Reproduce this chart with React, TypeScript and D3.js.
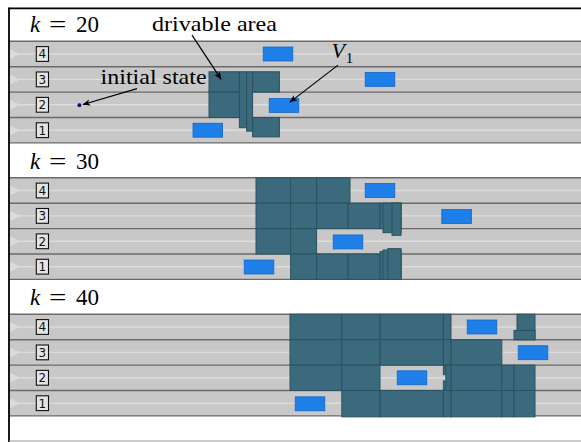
import React from "react";
import * as d3 from "d3";

// ---------- data ----------
const steps = [20, 30, 40];
const laneIds = [1, 2, 3, 4];
const LANE_W = 4; // lane width (m)
const ROAD_LEN = 143; // visible road length (m)

// other vehicles: [longitudinal centre s (m), lateral centre d (m)]
const carsK20 = [[67.25, 14], [92.75, 10], [68.75, 5.9], [49.7, 2]];
const carsK30 = [[92.75, 14], [111.9, 9.9], [84.75, 5.9], [62.5, 1.95]];
const carsK40 = [[118.25, 14], [131, 9.95], [100.75, 6], [75.25, 1.9]];
const CAR_L = 7.4;
const CAR_W = 2.2;

// drivable-area cells: [s0, s1, d0, d1]
const areaK20 = [
  [50, 57.6, 8, 11.2],
  [50, 57.6, 4, 8],
  [57.6, 59.4, 2.4, 11.2],
  [59.4, 60.9, 1.85, 11.2],
  [60.9, 67.6, 8, 11.2],
  [60.9, 67.6, 0.95, 4],
];
const areaK30 = [
  [61.75, 70.4, 12, 16], [70.4, 76.9, 12, 16], [76.9, 85.25, 12, 16],
  [61.75, 70.4, 8, 12], [70.4, 76.9, 8, 12], [76.9, 84.8, 8, 12], [84.8, 92.75, 8, 12],
  [92.75, 98, 8, 12], [93.5, 98, 7.36, 12], [95.75, 98, 6.94, 12],
  [61.75, 70.4, 4, 8], [70.4, 76.9, 4, 8],
  [70.4, 76.9, 0, 4], [76.9, 84.8, 0, 4], [84.8, 92.75, 0, 4],
  [92.75, 98, 0, 4.37], [93.5, 98, 0, 4.63], [94.7, 98, 0, 4.84],
];
const areaK40 = [
  [70.25, 83.2, 12, 16], [83.2, 92.75, 12, 16], [92.75, 108.6, 12, 16], [108.6, 110.5, 12, 16],
  [127, 131.5, 12, 16], [126.25, 131.5, 12, 13.45],
  [70.25, 83.2, 8, 12], [83.2, 92.75, 8, 12], [92.75, 108.6, 8, 12], [108.6, 110.5, 8, 12], [110.5, 123.2, 8, 12],
  [70.25, 83.2, 4, 8], [83.2, 92.75, 4, 8],
  [108.6, 110.5, 4, 5.5], [108.6, 110.5, 6.5, 8], [109.2, 110.5, 4, 8],
  [110.5, 123.2, 4, 8], [123.2, 126.25, 4, 8], [126.25, 131.5, 4, 8],
  [83.2, 92.75, -0.15, 4], [92.75, 108.6, -0.15, 4], [108.6, 110.5, -0.15, 4],
  [110.5, 123.2, -0.15, 4], [123.2, 126.25, -0.15, 4], [126.25, 131.5, -0.15, 4],
];

const carSets = [carsK20, carsK30, carsK40];
const areaSets = [areaK20, areaK30, areaK40];

// annotations in the first panel (road coordinates)
const initialState = [17.6, 5.94];
const annDrivable = { text: "drivable area", at: [35.75, 17.65], from: [45.75, 16.98], to: [53, 10.04] };
const annInitial = { text: "initial state", at: [22.9, 9.3], from: [32, 8.54], to: [18.5, 6.05] };
const annV1 = { at: [80.6, 13.3], from: [82.25, 12.25], to: [70.25, 6.42] };

// ---------- layout ----------
const W = 581;
const H = 442;
const LANE_PX = 25.4;
const ROAD_TOP0 = 41.3;
const PITCH = 136.5;

const LANE_FILL = "#c8c8c8";
const AREA_FILL = "#3b6a7c";
const AREA_STROKE = "#2b5262";
const CAR_FILL = "#1e7fe8";
const CAR_STROKE = "#1466c8";
const SERIF = "Liberation Serif";

export default function App() {
  const x = d3.scaleLinear().domain([0, ROAD_LEN]).range([9, W]);
  const panels = steps.map((k, i) => {
    const top = ROAD_TOP0 + i * PITCH;
    const y = d3
      .scaleLinear()
      .domain([0, LANE_W * laneIds.length])
      .range([top + laneIds.length * LANE_PX, top]);
    return { k, top, y, cars: carSets[i], cells: areaSets[i] };
  });
  const y0 = panels[0].y;

  return (
    <div style={{ position: "absolute", left: 0, top: 0 }}>
      <svg width={W} height={H} style={{ display: "block", background: "#fff" }}>
        <defs>
          <marker
            id="arrow"
            viewBox="0 0 10 10"
            refX={9}
            refY={5}
            markerWidth={8}
            markerHeight={8}
            markerUnits="userSpaceOnUse"
            orient="auto"
          >
            <path d="M0,1 L10,5 L0,9 L2.5,5 z" fill="#000" />
          </marker>
        </defs>
        {panels.map((p) => (
          <g key={p.k}>
            <rect
              x={x(0)}
              y={p.top}
              width={x(ROAD_LEN) - x(0)}
              height={laneIds.length * LANE_PX}
              fill={LANE_FILL}
            />
            {laneIds.map((l) => {
              const c = p.y((l - 0.5) * LANE_W);
              return (
                <g key={l}>
                  <line x1={x(0)} x2={x(ROAD_LEN)} y1={c} y2={c} stroke="#dcdcdc" strokeWidth={1.4} />
                  <polygon
                    points={`${x(0)},${c - 5.5} ${x(2.8)},${c} ${x(0)},${c + 5.5}`}
                    fill="#dadada"
                  />
                </g>
              );
            })}
            {d3.range(laneIds.length + 1).map((b) => (
              <line
                key={b}
                x1={x(0)}
                x2={x(ROAD_LEN)}
                y1={p.y(b * LANE_W)}
                y2={p.y(b * LANE_W)}
                stroke="#6a6a6a"
                strokeWidth={1.4}
              />
            ))}
            {p.cells.map((c, j) => (
              <rect
                key={j}
                x={x(c[0])}
                y={p.y(c[3])}
                width={x(c[1]) - x(c[0])}
                height={p.y(c[2]) - p.y(c[3])}
                fill={AREA_FILL}
                stroke={AREA_STROKE}
                strokeWidth={1}
              />
            ))}
            {p.cars.map((c, j) => (
              <rect
                key={j}
                x={x(c[0] - CAR_L / 2)}
                y={p.y(c[1] + CAR_W / 2)}
                width={x(c[0] + CAR_L / 2) - x(c[0] - CAR_L / 2)}
                height={p.y(c[1] - CAR_W / 2) - p.y(c[1] + CAR_W / 2)}
                fill={CAR_FILL}
                stroke={CAR_STROKE}
                strokeWidth={0.8}
              />
            ))}
            {laneIds.map((l) => {
              const c = p.y((l - 0.5) * LANE_W);
              return (
                <g key={"lab" + l}>
                  <rect x={36.3} y={c - 7.4} width={12.2} height={14.8} fill="#e4e4e4" stroke="#111" strokeWidth={1.1} />
                  <text
                    x={42.4}
                    y={c + 4.3}
                    textAnchor="middle"
                    fontFamily="DejaVu Sans"
                    fontSize={12}
                    fill="#111"
                  >
                    {l}
                  </text>
                </g>
              );
            })}
            <text x={30} y={p.top - 9.3} fontFamily={SERIF} fontSize={23} fontStyle="italic">
              k
            </text>
            <text x={49} y={p.top - 9.3} fontFamily={SERIF} fontSize={23} textLength={17.4} lengthAdjust="spacingAndGlyphs">
              =
            </text>
            <text x={76} y={p.top - 9.3} fontFamily={SERIF} fontSize={23} textLength={23} lengthAdjust="spacingAndGlyphs">
              {String(p.k)}
            </text>
          </g>
        ))}

        {/* annotations, panel k=20 */}
        <circle cx={x(initialState[0])} cy={y0(initialState[1])} r={1.9} fill="#000080" />
        {[annDrivable, annInitial, annV1].map((a, i) => (
          <line
            key={i}
            x1={x(a.from[0])}
            y1={y0(a.from[1])}
            x2={x(a.to[0])}
            y2={y0(a.to[1])}
            stroke="#000"
            strokeWidth={1.2}
            markerEnd="url(#arrow)"
          />
        ))}
        <text
          x={x(annDrivable.at[0])}
          y={y0(annDrivable.at[1])}
          fontFamily={SERIF}
          fontSize={22}
          textLength={125}
          lengthAdjust="spacingAndGlyphs"
        >
          {annDrivable.text}
        </text>
        <text
          x={x(annInitial.at[0])}
          y={y0(annInitial.at[1])}
          fontFamily={SERIF}
          fontSize={22}
          textLength={106}
          lengthAdjust="spacingAndGlyphs"
        >
          {annInitial.text}
        </text>
        <text x={x(annV1.at[0])} y={y0(annV1.at[1])} fontFamily={SERIF} fontSize={22}>
          <tspan fontStyle="italic">V</tspan>
          <tspan fontSize={15} dy={4.7} dx={1}>1</tspan>
        </text>

        {/* frame */}
        <line x1={9} x2={W} y1={8.3} y2={8.3} stroke="#000" strokeWidth={1.8} />
        <line x1={9} x2={9} y1={7.4} y2={H} stroke="#000" strokeWidth={1.8} />
        <line x1={9} x2={W} y1={441} y2={441} stroke="#999" strokeWidth={1} />
      </svg>
    </div>
  );
}
